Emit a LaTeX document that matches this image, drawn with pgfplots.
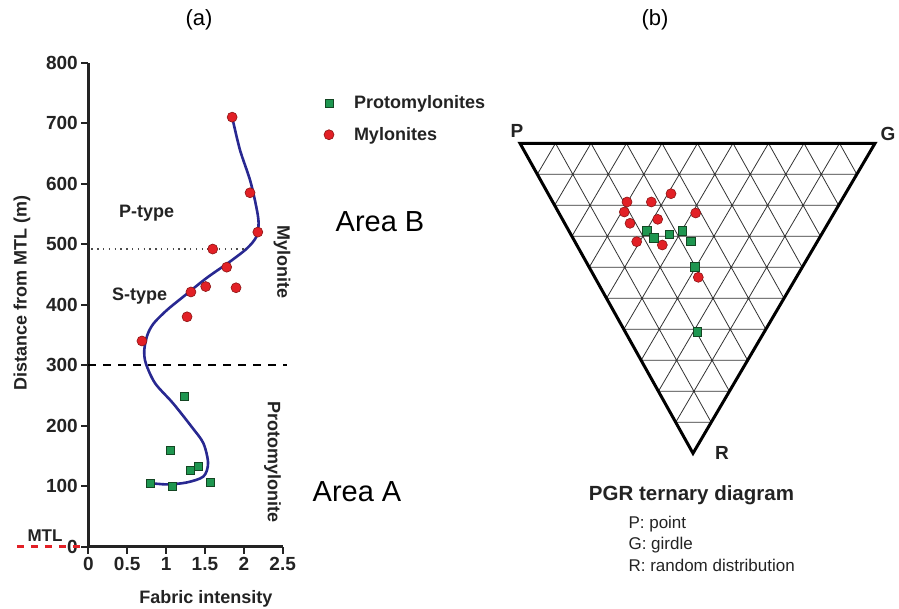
\documentclass[border=0pt]{standalone}
\usepackage{pgfplots}
\pgfplotsset{compat=1.18}
\usepackage{fontspec}
\setmainfont{Liberation Sans}
\definecolor{mred}{RGB}{226,32,38}
\definecolor{mredd}{RGB}{140,20,20}
\definecolor{pgreen}{RGB}{30,150,80}
\definecolor{pgreend}{RGB}{20,70,35}
\definecolor{navy}{RGB}{40,40,145}
\definecolor{txt}{RGB}{35,35,35}
\newcommand{\fs}[1]{\fontsize{#1}{#1}\selectfont}
\begin{document}
\begin{tikzpicture}
\useasboundingbox (0,0) rectangle (899pt,609pt);
% ---------- overlay axis in pixel coordinates (panel b + page text) ----------
\begin{axis}[at={(0pt,0pt)}, anchor=south west, scale only axis,
  width=899pt, height=609pt, xmin=0, xmax=899, ymin=0, ymax=609,
  y dir=reverse, hide axis, clip=false]
\addplot[black!80, line width=0.8pt, unbounded coords=jump] coordinates {
(555.5,143.3)(711.2,422.3)(nan,nan)
(591,143.3)(729.4,391.3)(nan,nan)
(626.5,143.3)(747.6,360.3)(nan,nan)
(662,143.3)(765.8,329.3)(nan,nan)
(697.5,143.3)(784,298.3)(nan,nan)
(733,143.3)(802.2,267.3)(nan,nan)
(768.5,143.3)(820.4,236.3)(nan,nan)
(804,143.3)(838.6,205.3)(nan,nan)
(839.5,143.3)(856.8,174.3)(nan,nan)
(555.5,143.3)(537.3,174.3)(nan,nan)
(591,143.3)(554.6,205.3)(nan,nan)
(626.5,143.3)(571.9,236.3)(nan,nan)
(662,143.3)(589.2,267.3)(nan,nan)
(697.5,143.3)(606.5,298.3)(nan,nan)
(733,143.3)(623.8,329.3)(nan,nan)
(768.5,143.3)(641.1,360.3)(nan,nan)
(804,143.3)(658.4,391.3)(nan,nan)
(839.5,143.3)(675.7,422.3)(nan,nan)
(537.3,174.3)(856.8,174.3)(nan,nan)
(554.6,205.3)(838.6,205.3)(nan,nan)
(571.9,236.3)(820.4,236.3)(nan,nan)
(589.2,267.3)(802.2,267.3)(nan,nan)
(606.5,298.3)(784,298.3)(nan,nan)
(623.8,329.3)(765.8,329.3)(nan,nan)
(641.1,360.3)(747.6,360.3)(nan,nan)
(658.4,391.3)(729.4,391.3)(nan,nan)
(675.7,422.3)(711.2,422.3)
};
\addplot[black, line width=3pt, line join=miter] coordinates {
(520,143.3)(875,143.3)(693,453.3)(520,143.3)(875,143.3)};
% ternary data: mylonites
\addplot[only marks, mark=*, mark size=5pt, mark options={fill=mred, draw=mredd, line width=0.6pt}] coordinates {
(627,202)(651.3,202)(671,193.7)(624.3,212)(695.7,213)(630,223.3)(657.7,219.3)(636.7,241.7)(662.3,245)(698.3,277.3)};
% ternary data: protomylonites
\addplot[only marks, mark=square*, mark size=4.2pt, mark options={fill=pgreen, draw=pgreend, line width=0.6pt}] coordinates {
(646.7,231)(653.7,237.7)(669,234.3)(682.3,231)(690.7,241.3)(694.7,267)(697,331.7)};
\node[font=\bfseries\fs{19}, text=txt] at (axis cs:517,131) {P};
\node[font=\bfseries\fs{19}, text=txt] at (axis cs:888,134) {G};
\node[font=\bfseries\fs{19}, text=txt] at (axis cs:722,453) {R};
\node[font=\bfseries\fs{20.5}, text=txt] at (axis cs:691.5,495) {PGR ternary diagram};
\node[font=\fs{17}, text=txt, anchor=west] at (axis cs:625,524) {P: point};
\node[font=\fs{17}, text=txt, anchor=west] at (axis cs:625,545) {G: girdle};
\node[font=\fs{17}, text=txt, anchor=west] at (axis cs:625,565) {R: random distribution};
\node[font=\fs{22}] at (axis cs:199,20) {(a)};
\node[font=\fs{22}] at (axis cs:655,20) {(b)};
\node[font=\fs{29}] at (axis cs:380,222) {Area B};
\node[font=\fs{29}] at (axis cs:357,492) {Area A};
\end{axis}
% ---------- panel (a) ----------
\begin{axis}[at={(88.3pt,62.3pt)}, anchor=south west, scale only axis,
  width=194.4pt, height=484pt, xmin=0, xmax=2.5, ymin=0, ymax=800,
  axis x line*=bottom, axis y line*=left,
  axis line style={line width=2.5pt, txt},
  xtick={0,0.5,1,1.5,2,2.5}, ytick={0,100,200,300,400,500,600,700,800},
  tick align=outside, major tick length=7pt,
  tick style={line width=2pt, txt},
  ticklabel style={font=\bfseries\fs{19}, text=txt},
  /pgf/number format/assume math mode=true,
  xlabel={Fabric intensity}, ylabel={Distance from MTL (m)},
  label style={font=\bfseries\fs{18}, text=txt},
  xlabel style={at={(axis description cs:0.605,-0.108)}, anchor=center},
  ylabel style={at={(axis description cs:-0.341,0.525)}, anchor=center},
  clip=false,
  legend style={at={(axis description cs:1.196,0.94)}, anchor=north west,
    draw=none, fill=none, font=\bfseries\fs{18}, text=txt, row sep=13pt},
  legend cell align=left]
\addplot[only marks, mark=square*, mark size=4pt, mark options={fill=pgreen, draw=pgreend, line width=0.6pt}] coordinates {
(1.23,249)(1.05,159)(1.31,127)(1.42,133)(1.57,106)(0.80,104)(1.08,100)};
\addlegendentry{\hspace{18pt}Protomylonites}
\addplot[only marks, mark=*, mark size=5pt, mark options={fill=mred, draw=mredd, line width=0.6pt}] coordinates {
(1.85,710)(2.08,585)(2.18,520)(1.60,492)(1.78,462)(1.51,430)(1.32,421)(1.90,428)(1.27,380)(0.69,340)};
\addlegendentry{\hspace{18pt}Mylonites}
\addplot[navy, line width=2.6pt, smooth, tension=0.5, forget plot] coordinates {
(1.85,710)(1.95,656)(2.08,606)(2.16,562)(2.19,535)(2.16,512)(2.04,493)(1.82,471)(1.52,444)(1.22,413)(1.01,391)(0.84,369)(0.76,350)(0.72,325)(0.74,303)(0.86,270)(1.09,237)(1.33,198)(1.48,171)(1.54,138)(1.48,116)(1.26,106)(1.01,103)(0.81,105)};
\addplot[black!70, line width=1.3pt, dash pattern=on 1.3pt off 4.5pt, forget plot] coordinates {(0.04,492)(2.01,492)};
\addplot[black, line width=2.5pt, dash pattern=on 8pt off 7pt, forget plot] coordinates {(0,300)(2.55,300)};
\addplot[mred, line width=3pt, dash pattern=on 7pt off 7pt, forget plot] coordinates {(-0.92,0)(-0.05,0)};
\node[font=\bfseries\fs{18}, text=txt] at (axis cs:0.75,552) {P-type};
\node[font=\bfseries\fs{18}, text=txt] at (axis cs:0.66,415) {S-type};
\node[font=\bfseries\fs{18}, text=txt, rotate=-90] at (axis cs:2.49,470) {Mylonite};
\node[font=\bfseries\fs{18}, text=txt, rotate=-90] at (axis cs:2.37,140) {Protomylonite};
\node[font=\bfseries\fs{17}, text=txt] at (axis cs:-0.557,18) {MTL};
\end{axis}
\end{tikzpicture}
\end{document}
